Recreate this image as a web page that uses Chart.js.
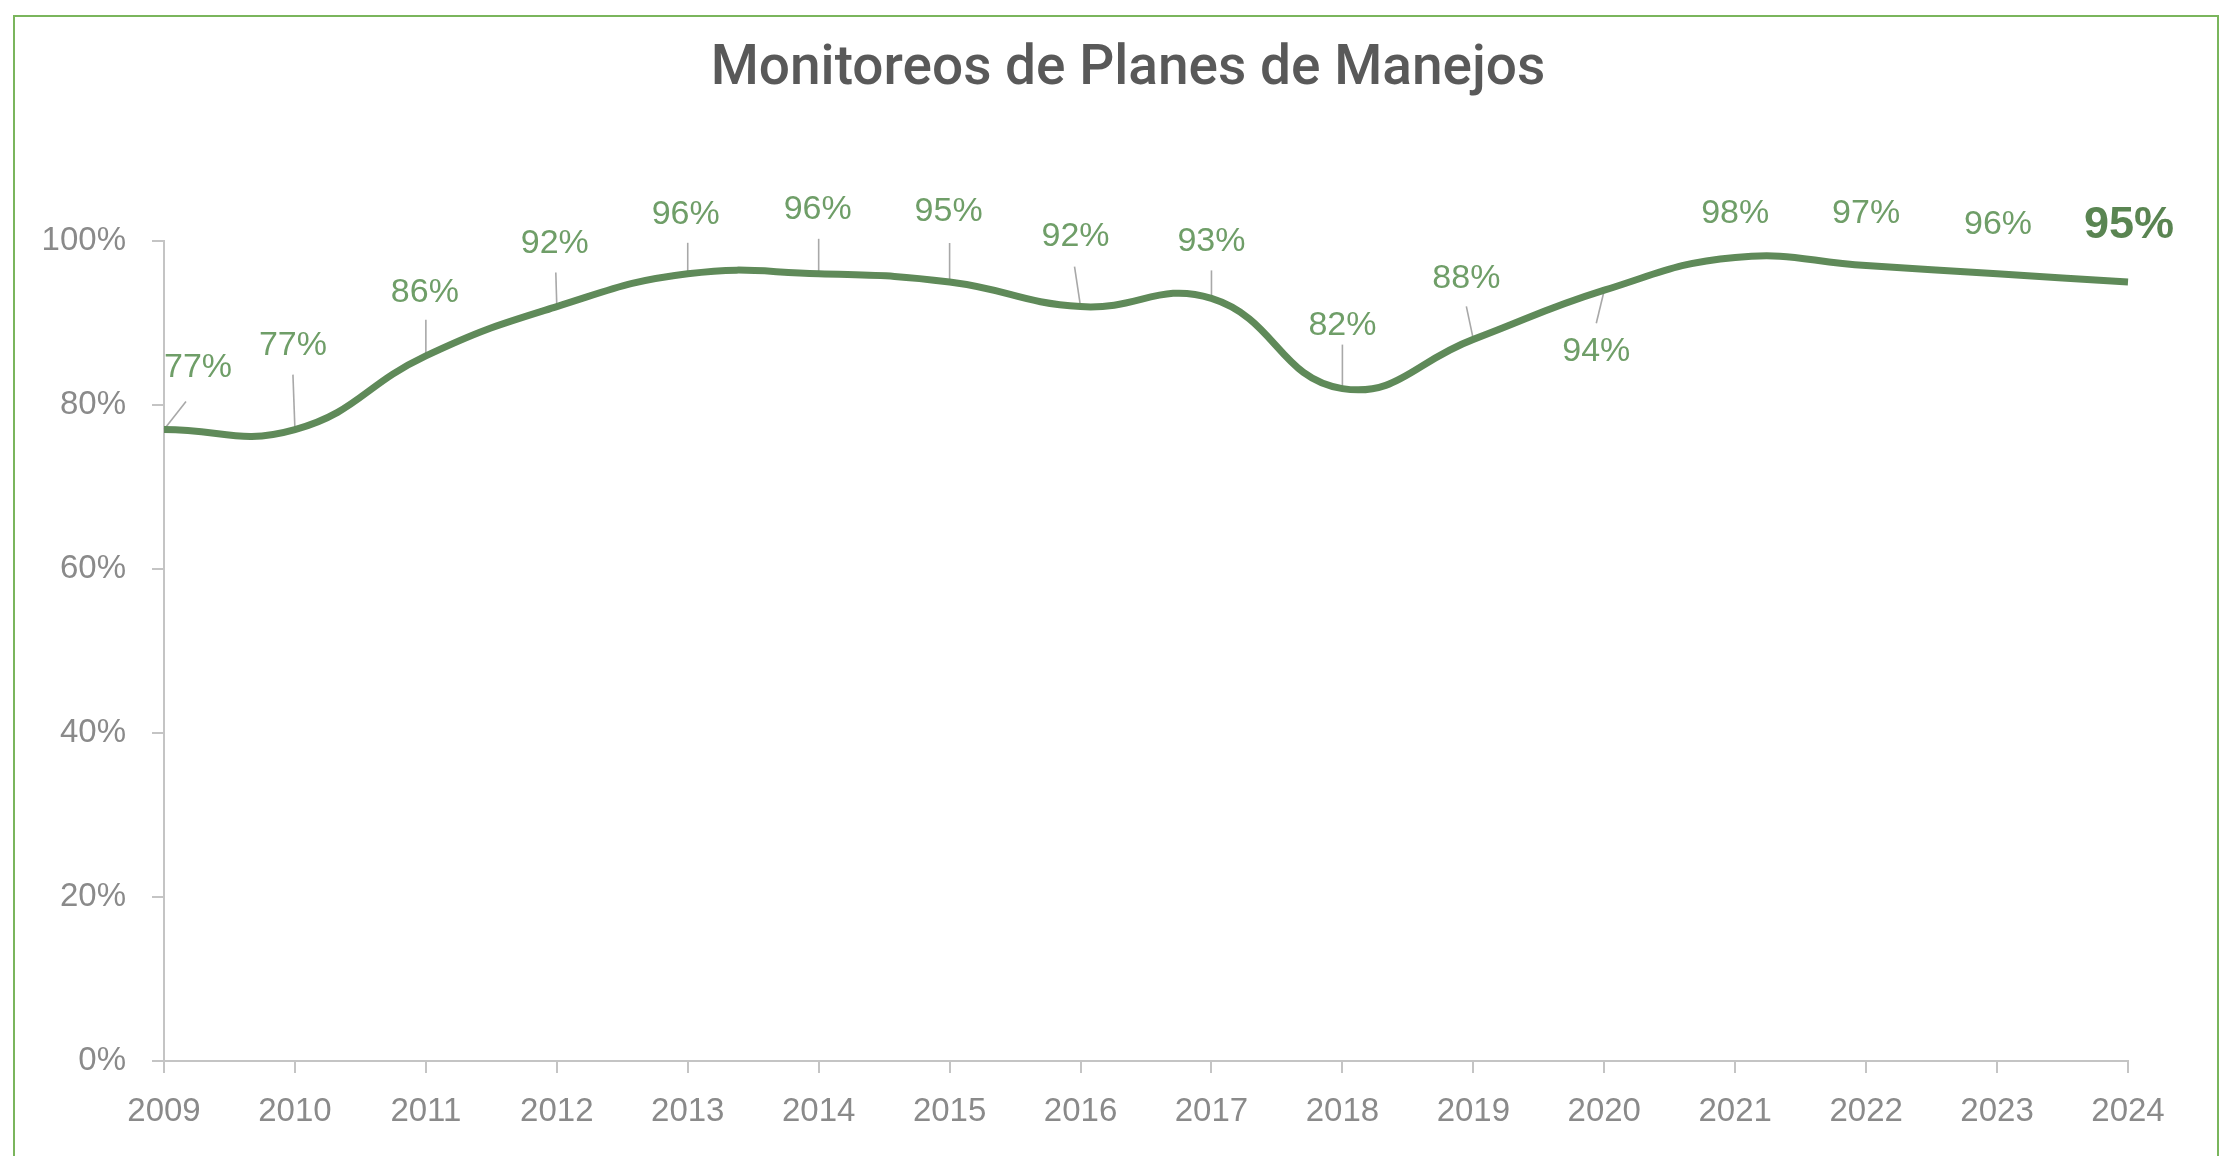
<!DOCTYPE html>
<html>
<head>
<meta charset="utf-8">
<title>Monitoreos de Planes de Manejos</title>
<script src="https://cdn.jsdelivr.net/npm/chart.js@4.4.1/dist/chart.umd.min.js"></script>
<style>
  html, body { margin: 0; padding: 0; background: #ffffff; overflow: hidden; }
  #wrap { position: relative; width: 2222px; height: 1156px; }
  #c { position: absolute; left: 0; top: 0; }
  #frame {
    position: absolute; left: 13px; top: 15px; width: 2206px; height: 1170px;
    border: 2px solid #7ab55c; box-sizing: border-box; pointer-events: none;
  }
</style>
</head>
<body>
<div id="wrap">
  <canvas id="c" width="2222" height="1156"></canvas>
  <div id="frame"></div>
</div>
<script>
// Years on the horizontal axis
const years = ['2009', '2010', '2011', '2012', '2013', '2014', '2015', '2016',
               '2017', '2018', '2019', '2020', '2021', '2022', '2023', '2024'];
// Share of management plans monitored each year (%)
const rates = [77, 77, 86, 92, 96, 96, 95, 92, 93, 82, 88, 94, 98, 97, 96, 95];
// Vertical axis tick values (%)
const yTickValues = [0, 20, 40, 60, 80, 100];

const LINE_COLOR = '#5f8a59';
const LABEL_COLOR = '#6f9e68';
const LAST_LABEL_COLOR = '#5a8552';
const LEADER_COLOR = '#a8a8a8';
const AXIS_COLOR = '#c4c4c4';
const TICK_TEXT = '#8a8a8a';

// Per-point label placement: centre offset from the point and optional leader start
const labelPlacement = [
  { dx: 34,  dy: -62, lead: [22, -28] },
  { dx: -2,  dy: -84, lead: [-2, -55] },
  { dx: -1,  dy: -63, lead: [0, -36] },
  { dx: -2,  dy: -63, lead: [-1, -34] },
  { dx: -2,  dy: -59, lead: [0, -31] },
  { dx: -1,  dy: -64, lead: [0, -35] },
  { dx: -1,  dy: -70, lead: [0, -39] },
  { dx: -5,  dy: -70, lead: [-6, -40] },
  { dx: 0,   dy: -57, lead: [0, -28] },
  { dx: 0,   dy: -63, lead: [0, -44] },
  { dx: -7,  dy: -61, lead: [-7, -33] },
  { dx: -8,  dy: 61,  lead: [-8, 33] },
  { dx: 0,   dy: -44, lead: null },
  { dx: 0,   dy: -52, lead: null },
  { dx: 1,   dy: -49, lead: null },
  { dx: 1,   dy: -56, lead: null }
];

// The title is centred over the whole framed area rather than the plot box
const titleOffset = {
  id: 'titleOffset',
  afterLayout(chart) {
    if (chart.titleBlock) chart.titleBlock.left += 128;
  }
};

const pointLabels = {
  id: 'pointLabels',
  beforeDatasetsDraw(chart) {
    const meta = chart.getDatasetMeta(0);
    const ctx = chart.ctx;
    ctx.save();
    ctx.strokeStyle = LEADER_COLOR;
    ctx.lineWidth = 1.6;
    meta.data.forEach((pt, i) => {
      const p = labelPlacement[i];
      if (!p || !p.lead) return;
      ctx.beginPath();
      ctx.moveTo(pt.x + p.lead[0], pt.y + p.lead[1]);
      ctx.lineTo(pt.x, pt.y);
      ctx.stroke();
    });
    ctx.restore();
  },
  afterDatasetsDraw(chart) {
    const meta = chart.getDatasetMeta(0);
    const values = chart.data.datasets[0].data;
    const ctx = chart.ctx;
    ctx.save();
    ctx.textAlign = 'center';
    ctx.textBaseline = 'middle';
    meta.data.forEach((pt, i) => {
      const p = labelPlacement[i] || { dx: 0, dy: -50 };
      const last = i === meta.data.length - 1;
      ctx.font = last ? 'bold 45px "Liberation Sans", Arial, sans-serif'
                      : '34px "Liberation Sans", Arial, sans-serif';
      ctx.fillStyle = last ? LAST_LABEL_COLOR : LABEL_COLOR;
      ctx.fillText(values[i] + '%', pt.x + p.dx, pt.y + p.dy);
    });
    ctx.restore();
  }
};

new Chart(document.getElementById('c'), {
  type: 'line',
  data: {
    labels: years,
    datasets: [{
      data: rates,
      borderColor: LINE_COLOR,
      borderWidth: 7,
      tension: 0.45,
      pointRadius: 0,
      pointHoverRadius: 0,
      fill: false,
      clip: false
    }]
  },
  options: {
    responsive: false,
    animation: false,
    devicePixelRatio: 1,
    layout: { padding: { left: 0, right: 94, top: 0, bottom: 0 } },
    plugins: {
      legend: { display: false },
      tooltip: { enabled: false },
      title: {
        display: true,
        text: 'Monitoreos de Planes de Manejos',
        color: '#595959',
        font: { family: 'Roboto, "Open Sans", sans-serif', size: 55, weight: '500', lineHeight: 1.2 },
        padding: { top: 37, bottom: 138 }
      }
    },
    scales: {
      x: {
        offset: false,
        grid: { drawOnChartArea: false, drawTicks: true, tickLength: 12, color: AXIS_COLOR, lineWidth: 2 },
        border: { display: true, color: AXIS_COLOR, width: 2 },
        ticks: {
          color: TICK_TEXT, padding: 19, maxRotation: 0, autoSkip: false,
          font: { family: '"Liberation Sans", Arial, sans-serif', size: 33 }
        },
        afterFit(scale) { scale.height = 95; }
      },
      y: {
        min: 0,
        max: 100,
        afterBuildTicks(scale) { scale.ticks = yTickValues.map(v => ({ value: v })); },
        grid: { drawOnChartArea: false, drawTicks: true, tickLength: 12, color: AXIS_COLOR, lineWidth: 2 },
        border: { display: true, color: AXIS_COLOR, width: 2 },
        ticks: {
          color: TICK_TEXT, padding: 26,
          font: { family: '"Liberation Sans", Arial, sans-serif', size: 33 },
          callback: v => v + '%'
        },
        afterFit(scale) { scale.width = 164; }
      }
    }
  },
  plugins: [titleOffset, pointLabels]
});
</script>
</body>
</html>
